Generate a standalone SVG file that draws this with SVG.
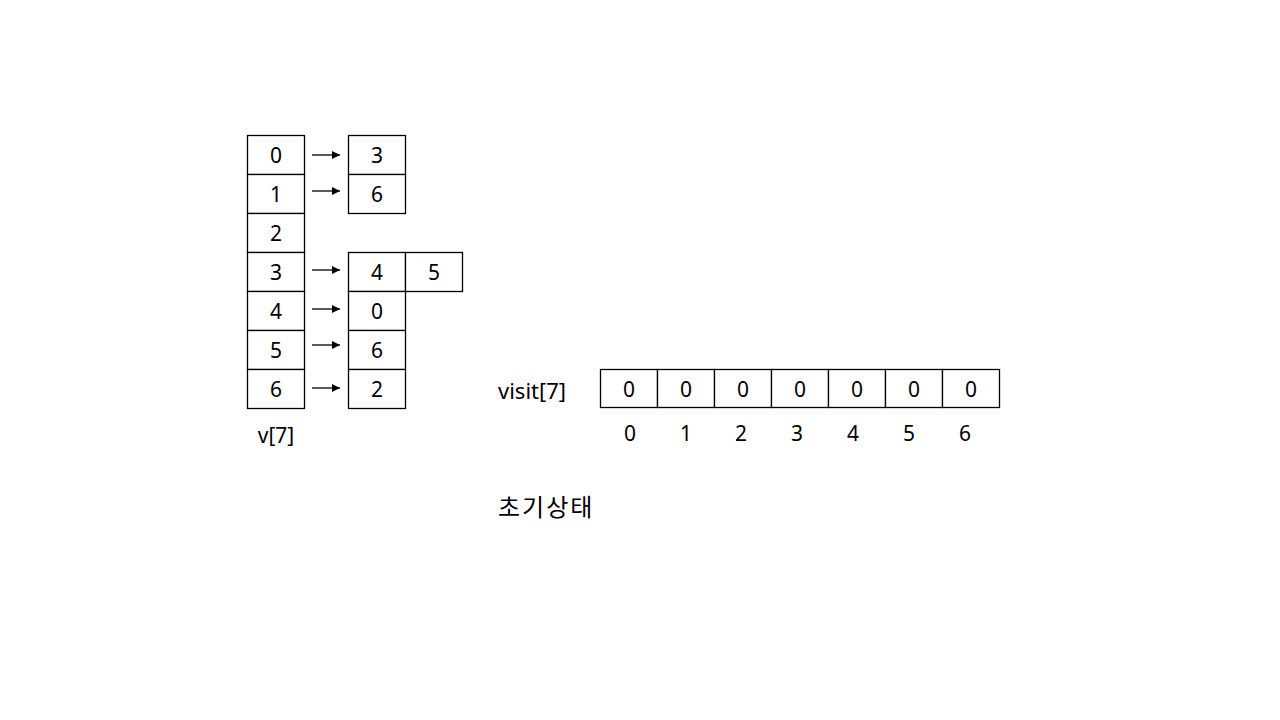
<svg xmlns="http://www.w3.org/2000/svg" width="1280" height="720" viewBox="0 0 1280 720">
<defs>
<style>
.c{fill:#fff;stroke:#000;stroke-width:1.3}
.t{font-family:"Noto Sans","Noto Sans CJK KR",sans-serif;font-size:21px;fill:#000;text-anchor:middle;dominant-baseline:central}
.l{font-family:"Noto Sans","Noto Sans CJK KR",sans-serif;font-size:22px;fill:#000;dominant-baseline:central}
.a{stroke:#000;stroke-width:1.3;fill:none;marker-end:url(#ah)}
</style>
<marker id="ah" viewBox="0 0 10 10" refX="10" refY="5" markerWidth="8" markerHeight="8" markerUnits="userSpaceOnUse" orient="auto"><path d="M0,0 L10,5 L0,10 z" fill="#000"/></marker>
</defs>
<rect width="1280" height="720" fill="#fff"/>
<g id="v">
<rect class="c" x="247.5" y="135.5" width="57" height="39"/><text class="t" x="276" y="155">0</text>
<rect class="c" x="247.5" y="174.5" width="57" height="39"/><text class="t" x="276" y="194">1</text>
<rect class="c" x="247.5" y="213.5" width="57" height="39"/><text class="t" x="276" y="233">2</text>
<rect class="c" x="247.5" y="252.5" width="57" height="39"/><text class="t" x="276" y="272">3</text>
<rect class="c" x="247.5" y="291.5" width="57" height="39"/><text class="t" x="276" y="311">4</text>
<rect class="c" x="247.5" y="330.5" width="57" height="39"/><text class="t" x="276" y="350">5</text>
<rect class="c" x="247.5" y="369.5" width="57" height="39"/><text class="t" x="276" y="389">6</text>
<text class="t" x="276" y="435">v[7]</text>
</g>
<g id="list0"><rect class="c" x="348.5" y="135.5" width="57" height="39"/><text class="t" x="377" y="155">3</text></g>
<g id="list1"><rect class="c" x="348.5" y="174.5" width="57" height="39"/><text class="t" x="377" y="194">6</text></g>
<g id="list3"><rect class="c" x="348.5" y="252.5" width="57" height="39"/><text class="t" x="377" y="272">4</text>
<rect class="c" x="405.5" y="252.5" width="57" height="39"/><text class="t" x="434" y="272">5</text></g>
<g id="list4"><rect class="c" x="348.5" y="291.5" width="57" height="39"/><text class="t" x="377" y="311">0</text></g>
<g id="list5"><rect class="c" x="348.5" y="330.5" width="57" height="39"/><text class="t" x="377" y="350">6</text></g>
<g id="list6"><rect class="c" x="348.5" y="369.5" width="57" height="39"/><text class="t" x="377" y="389">2</text></g>
<g id="connectors">
<line class="a" x1="312" y1="155" x2="340" y2="155"/>
<line class="a" x1="312" y1="191" x2="340" y2="191"/>
<line class="a" x1="312" y1="270" x2="340" y2="270"/>
<line class="a" x1="312" y1="309" x2="340" y2="309"/>
<line class="a" x1="312" y1="345" x2="340" y2="345"/>
<line class="a" x1="312" y1="388" x2="340" y2="388"/>
</g>
<g id="visit">
<text class="l" x="498" y="390">visit[7]</text>
<rect class="c" x="600.5" y="369.5" width="57" height="38"/><text class="t" x="629" y="389">0</text>
<rect class="c" x="657.5" y="369.5" width="57" height="38"/><text class="t" x="686" y="389">0</text>
<rect class="c" x="714.5" y="369.5" width="57" height="38"/><text class="t" x="743" y="389">0</text>
<rect class="c" x="771.5" y="369.5" width="57" height="38"/><text class="t" x="800" y="389">0</text>
<rect class="c" x="828.5" y="369.5" width="57" height="38"/><text class="t" x="857" y="389">0</text>
<rect class="c" x="885.5" y="369.5" width="57" height="38"/><text class="t" x="914" y="389">0</text>
<rect class="c" x="942.5" y="369.5" width="57" height="38"/><text class="t" x="971" y="389">0</text>
<text class="t" x="630" y="433">0</text>
<text class="t" x="686" y="433">1</text>
<text class="t" x="741" y="433">2</text>
<text class="t" x="797" y="433">3</text>
<text class="t" x="853" y="433">4</text>
<text class="t" x="909" y="433">5</text>
<text class="t" x="965" y="433">6</text>
</g>
<text class="l" x="498" y="505" style="font-family:'Noto Sans CJK KR',sans-serif;font-size:24px;letter-spacing:2px">초기상태</text>
</svg>
